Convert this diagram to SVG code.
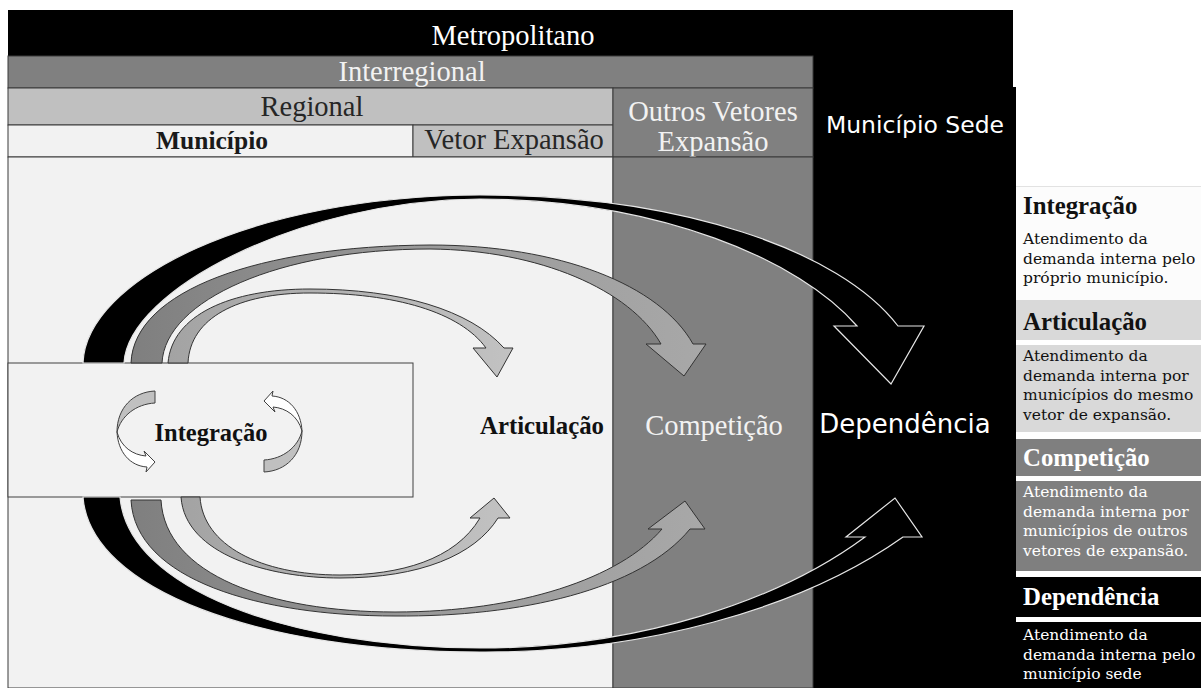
<svg xmlns="http://www.w3.org/2000/svg" width="1201" height="688" viewBox="0 0 1201 688">
<defs>
<style>
.serif{font-family:"Liberation Serif","Times New Roman",serif}
.sans{font-family:"DejaVu Sans",Verdana,sans-serif}
.hdr{font-size:28.5px}
.ln{stroke:#3a3a3a;stroke-width:1}
.lg{font-family:"DejaVu Serif","Liberation Serif",serif;font-size:15.5px}
.lgh{font-family:"Liberation Serif","Times New Roman",serif;font-size:24.8px;font-weight:bold}
.blk{fill:#000;stroke:#e6e6e6;stroke-width:1.2}
.mid{fill:url(#gMid);stroke:#333;stroke-width:1}
.inn{fill:url(#gIn);stroke:#333;stroke-width:1}
.sm{stroke:#404040;stroke-width:1}
</style>
<linearGradient id="gMid" x1="0" y1="0" x2="1" y2="0"><stop offset="0" stop-color="#7f7f7f"/><stop offset="0.5" stop-color="#999"/><stop offset="1" stop-color="#a8a8a8"/></linearGradient>
<linearGradient id="gIn" x1="0" y1="0" x2="1" y2="0"><stop offset="0" stop-color="#a3a3a3"/><stop offset="1" stop-color="#c2c2c2"/></linearGradient>
</defs>
<rect width="1201" height="688" fill="#fff"/>

<g id="metropolitano">
<path d="M8,10 H1013 V87 H1016 V688 H813 V56 H8 Z" fill="#000"/>
<text x="513" y="45" class="serif hdr" fill="#fff" text-anchor="middle">Metropolitano</text>
</g>
<g id="interregional">
<rect x="8" y="56" width="805" height="32" fill="#808080" class="ln"/>
<text x="412" y="81" class="serif hdr" fill="#f2f2f2" text-anchor="middle">Interregional</text>
</g>
<g id="regional">
<rect x="8" y="88" width="605" height="37" fill="#c0c0c0" class="ln"/>
<text x="312" y="116" class="serif hdr" fill="#262626" text-anchor="middle">Regional</text>
</g>
<g id="municipio">
<rect x="8" y="125" width="405" height="32" fill="#f2f2f2" class="ln"/>
<text x="212" y="149" class="serif" font-size="25.5" font-weight="bold" fill="#1a1a1a" text-anchor="middle">Município</text>
</g>
<g id="vetor-expansao">
<rect x="413" y="125" width="200" height="32" fill="#c0c0c0" class="ln"/>
<text x="514" y="149" class="serif hdr" fill="#262626" text-anchor="middle">Vetor Expansão</text>
</g>
<g id="outros-vetores">
<rect x="613" y="88" width="200" height="69" fill="#808080" class="ln"/>
<text x="713" y="121" class="serif hdr" fill="#f2f2f2" text-anchor="middle">Outros Vetores</text>
<text x="713" y="151" class="serif hdr" fill="#f2f2f2" text-anchor="middle">Expansão</text>
</g>
<g id="municipio-sede">
<text x="915" y="133" class="sans" font-size="23.5" fill="#fff" text-anchor="middle">Município Sede</text>
</g>
<g id="area-articulacao">
<rect x="8" y="157" width="605" height="531" fill="#f2f2f2" class="ln"/>
<text x="542" y="434" class="serif" font-size="24.8" font-weight="bold" fill="#111" text-anchor="middle">Articulação</text>
</g>
<g id="area-competicao">
<rect x="613" y="157" width="200" height="531" fill="#808080" class="ln"/>
<text x="714" y="435" class="serif hdr" fill="#f2f2f2" text-anchor="middle">Competição</text>
</g>
<g id="area-dependencia">
<text x="905" y="433" class="sans" font-size="26" fill="#fff" text-anchor="middle">Dependência</text>
</g>
<g id="integracao">
<rect x="8" y="363" width="405" height="134" fill="#f2f2f2" stroke="#404040" stroke-width="1"/>
<text x="211" y="441" class="serif" font-size="24.5" font-weight="bold" fill="#111" text-anchor="middle">Integração</text>
<path class="sm" fill="#c0c0c0" d="M155,391 C133,392 117,408 117,432 C121,416 136,404 155,403 Z"/>
<path class="sm" fill="#fff" d="M117,432 C118,452 130,466 147,467 L146,472 L155,462 L144,451 L146,456 C133,455 121,447 117,432 Z"/>
<path class="sm" fill="#c0c0c0" d="M264,472 C286,471 302,455 302,431 C298,447 283,459 264,460 Z"/>
<path class="sm" fill="#fff" d="M302,431 C301,411 289,397 272,396 L273,391 L264,401 L275,412 L273,407 C286,408 298,416 302,431 Z"/>
</g>

<g id="connectors">
<path class="blk" d="M83,363 C86,280 250,196 480,195 C680,195 840,250 898,326 L924,326 L891,384 L834,326 L857,326 C800,260 660,200 480,199 C300,200 128,290 124,363 Z"/>
<path class="mid" d="M131,363 C134,290 260,246 430,245 C560,245 660,285 693,344 L706,344 L684,376 L646,344 L661,344 C630,290 540,250 430,249 C280,249 165,300 162,363 Z"/>
<path class="inn" d="M168,363 C172,315 230,289 310,289 C400,289 470,310 504,348 L513,348 L497,377 L473,348 L486,348 C460,312 395,293 310,293 C238,293 190,318 188,363 Z"/>
<path class="blk" d="M83,497 C90,590 260,652 480,652 C640,653 800,610 903,537 L922,537 L895,498 L846,537 L865,537 C780,600 640,648 480,648 C290,647 128,590 120,497 Z"/>
<path class="mid" d="M131,500 C135,580 260,616 395,616 C520,617 640,590 690,529 L705,529 L685,501 L648,529 L662,529 C620,578 520,612 395,612 C270,612 165,575 161,500 Z"/>
<path class="inn" d="M181,497 C185,555 270,578 340,578 C420,578 475,555 498,518 L510,518 L494,498 L470,518 L480,518 C455,560 400,575 340,575 C260,575 203,545 200,497 Z"/>
</g>

<g id="legend-integracao">
<rect x="1016" y="186" width="185" height="114" fill="#fcfcfc"/>
<line x1="1016" y1="186.5" x2="1201" y2="186.5" stroke="#e2e2e2"/>
<text x="1023" y="214" class="lgh" fill="#111">Integração</text>
<text class="lg" fill="#111"><tspan x="1023" y="244">Atendimento da</tspan><tspan x="1023" y="263.5">demanda interna pelo</tspan><tspan x="1023" y="283">próprio  município.</tspan></text>
</g>
<g id="legend-articulacao">
<rect x="1016" y="300" width="185" height="40" fill="#d9d9d9"/>
<rect x="1016" y="345" width="185" height="87" fill="#d9d9d9"/>
<text x="1023" y="330" class="lgh" fill="#111">Articulação</text>
<text class="lg" fill="#111"><tspan x="1023" y="361">Atendimento da</tspan><tspan x="1023" y="380.5">demanda interna por</tspan><tspan x="1023" y="400">municípios do mesmo</tspan><tspan x="1023" y="419.5">vetor de expansão.</tspan></text>
</g>
<g id="legend-competicao">
<rect x="1016" y="439" width="185" height="37" fill="#7f7f7f"/>
<rect x="1016" y="481" width="185" height="90" fill="#7f7f7f"/>
<text x="1023" y="466" class="lgh" fill="#fff">Competição</text>
<text class="lg" fill="#fff"><tspan x="1023" y="497">Atendimento da</tspan><tspan x="1023" y="516.5">demanda interna por</tspan><tspan x="1023" y="536">municípios de outros</tspan><tspan x="1023" y="555.5">vetores de expansão.</tspan></text>
</g>
<g id="legend-dependencia">
<rect x="1016" y="577" width="185" height="40" fill="#000"/>
<rect x="1016" y="622" width="185" height="66" fill="#000"/>
<text x="1023" y="605" class="lgh" fill="#fff">Dependência</text>
<text class="lg" fill="#fff"><tspan x="1023" y="640">Atendimento da</tspan><tspan x="1023" y="659.5">demanda interna pelo</tspan><tspan x="1023" y="679">município sede</tspan></text>
</g>
</svg>
